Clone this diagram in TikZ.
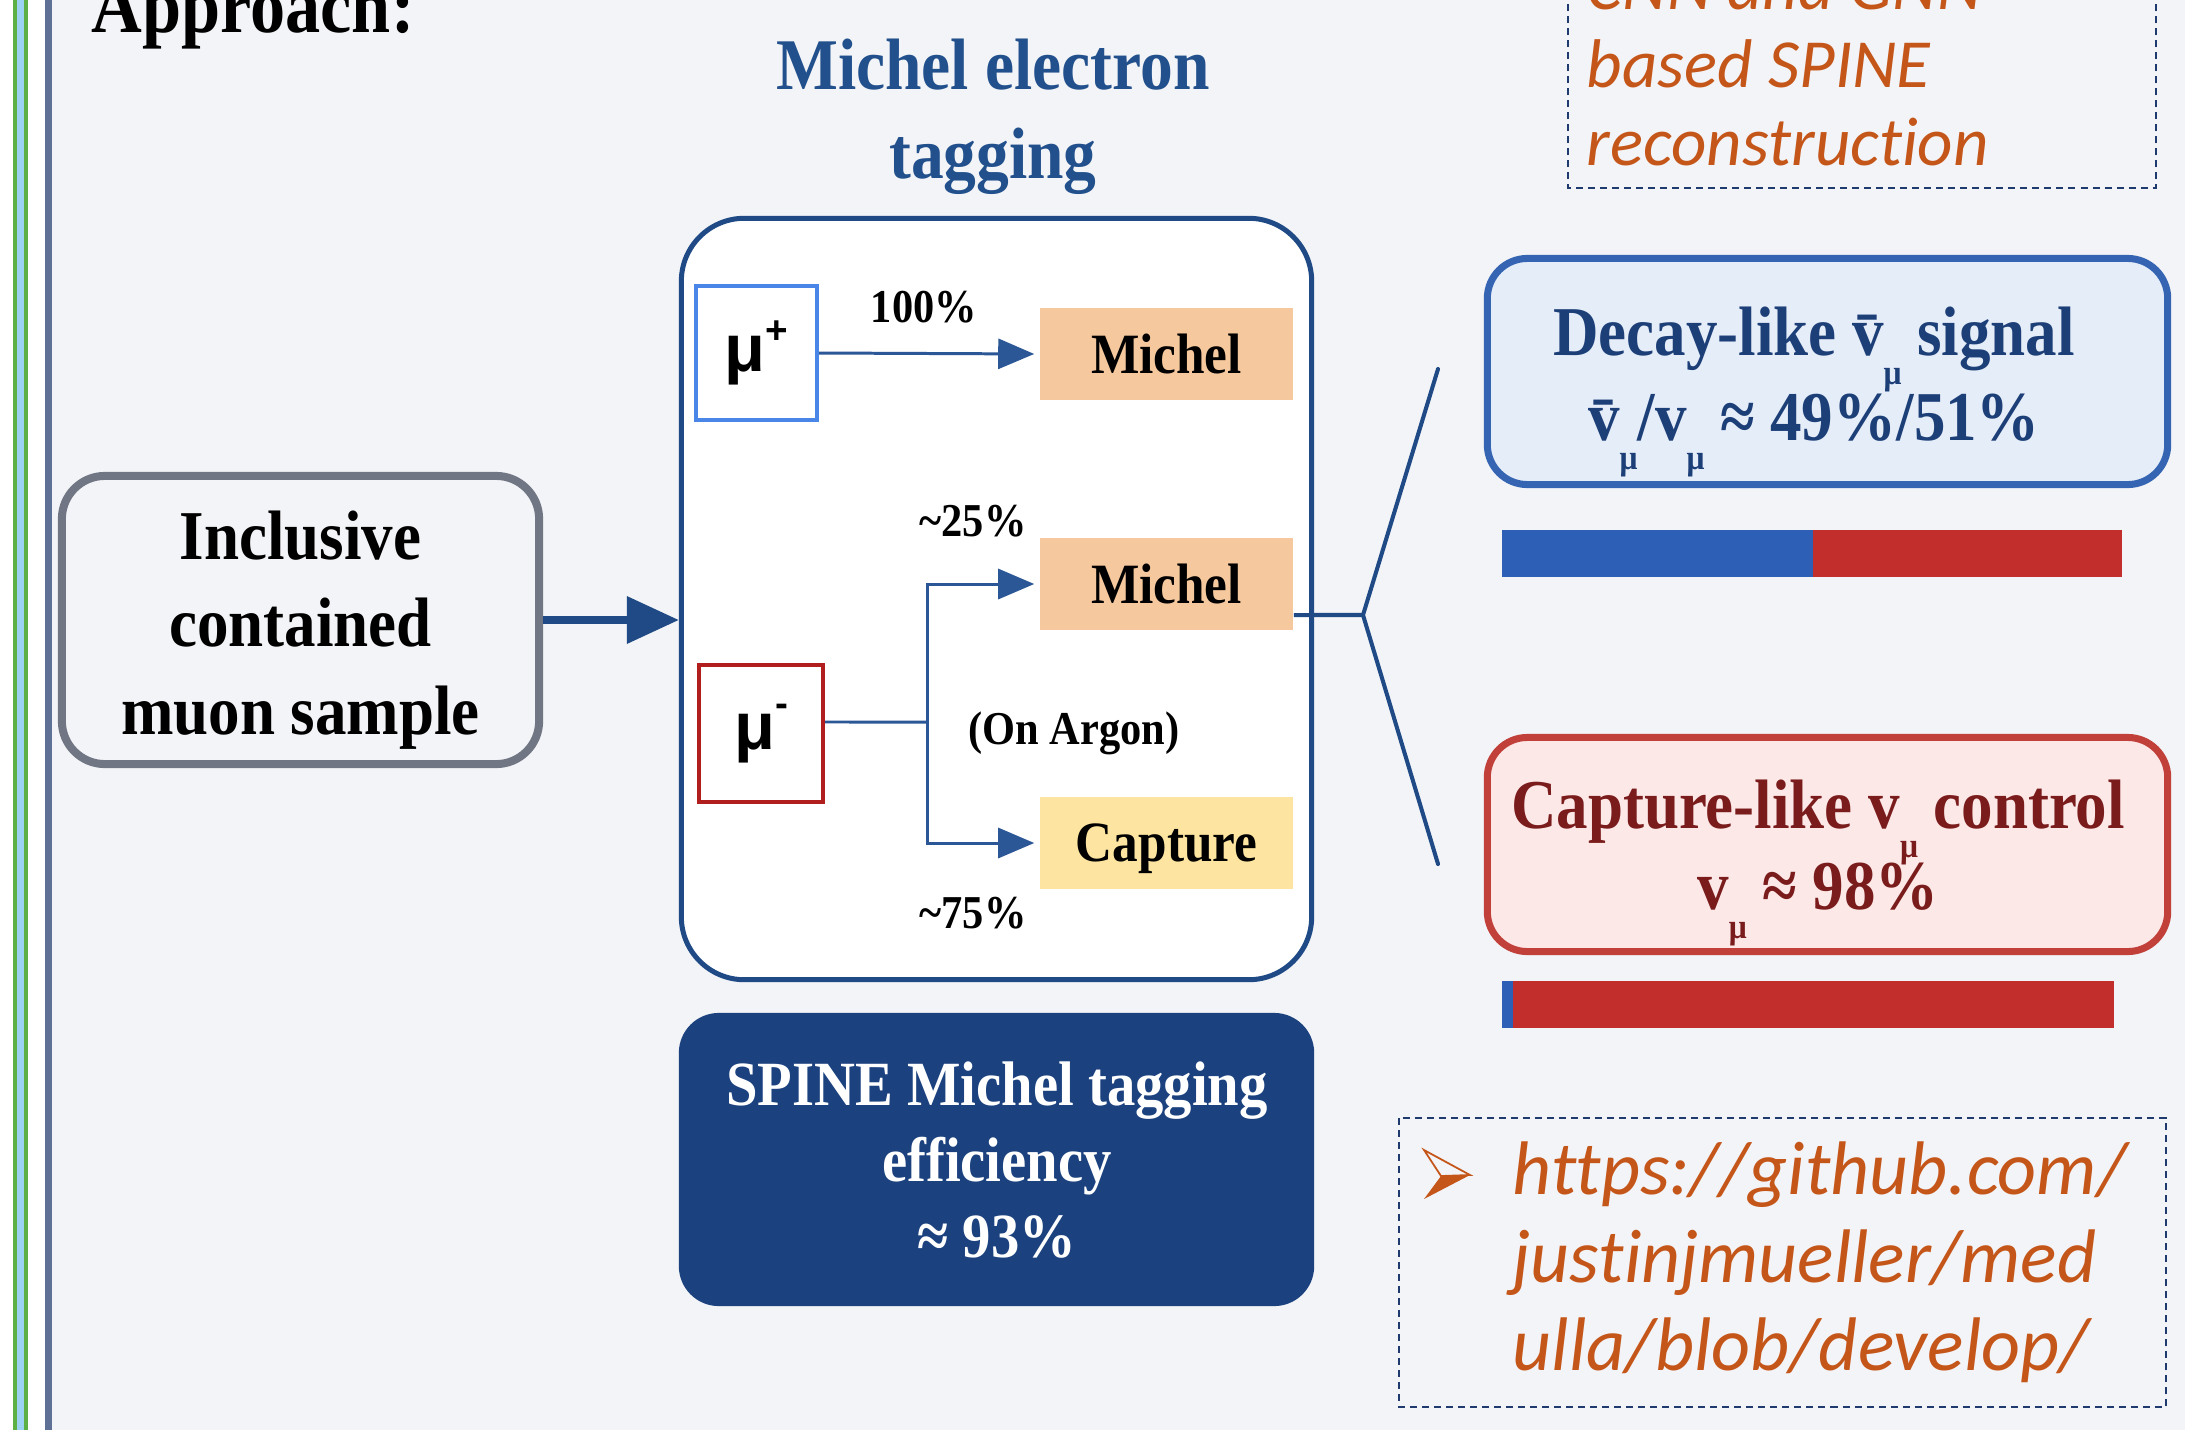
\documentclass[tikz,border=0pt]{standalone}
\usepackage{fontspec}
\setmainfont{Liberation Serif}[FakeStretch=0.9]
\newfontfamily\sansmu{Liberation Sans}
\newfontfamily\orfont{Carlito}[Ligatures=NoCommon]
\usetikzlibrary{arrows.meta,calc}
\definecolor{bgc}{HTML}{F3F4F7}
\definecolor{stripgreen}{HTML}{5DB043}
\definecolor{stripblue}{HTML}{9DD3F0}
\definecolor{slate}{HTML}{5F7096}
\definecolor{titlec}{HTML}{21508C}
\definecolor{mainc}{HTML}{1F4A86}
\definecolor{arrowc}{HTML}{2B5796}
\definecolor{mupc}{HTML}{4A86E8}
\definecolor{mumc}{HTML}{B01E1E}
\definecolor{michc}{HTML}{F6C89D}
\definecolor{captc}{HTML}{FDE4A0}
\definecolor{spinec}{HTML}{1B417E}
\definecolor{decayb}{HTML}{3565B2}
\definecolor{decayf}{HTML}{E5EDF9}
\definecolor{decayt}{HTML}{1D3F78}
\definecolor{capb}{HTML}{C1403A}
\definecolor{capf}{HTML}{FDE8E8}
\definecolor{capt}{HTML}{7A1C1C}
\definecolor{barblue}{HTML}{2E5FB7}
\definecolor{barred}{HTML}{C22E2B}
\definecolor{orangec}{HTML}{C5561A}
\definecolor{grayb}{HTML}{707684}
\definecolor{dashc}{HTML}{1F3A6E}
\newcommand\fsz[2]{\fontsize{#1}{#2}\selectfont}
\newcommand\smu{\smash{\raisebox{-0.42em}{\fsz{10}{10}μ}}}
\begin{document}
\begin{tikzpicture}[x=0.01cm,y=-0.01cm,
  rbox/.style={draw, inner sep=0pt},
  flowline/.style={draw=arrowc, line width=0.85pt},
  flow/.style={flowline, -{Triangle[length=0.36cm,width=0.30cm]}, shorten >=0.05cm},
  fork/.style={draw=mainc, line width=1.15pt},
  lab/.style={inner sep=0pt, font=\bfseries\fsz{13.4}{16}},
  fillbox/.style={inner sep=0pt, minimum width=2.53cm, minimum height=0.92cm, text depth=0pt, font=\bfseries\fsz{16.2}{19}},
  mubox/.style={rbox, line width=1.14pt, fill=white, font=\sansmu\bfseries\fsz{19}{22}},
  dbox/.style={draw=dashc, line width=0.7pt, dash pattern=on 0.07cm off 0.05cm},
  ortext/.style={inner sep=0pt, align=left, text=orangec, anchor=west}]
\useasboundingbox (0,0) rectangle (2185,1430);
\clip (0,0) rectangle (2185,1430);
% background and left strip
\fill[bgc] (0,0) rectangle (2185,1430);
\fill[white] (0,0) rectangle (52,1430);
\fill[stripgreen] (12.7,0) rectangle (28,1430);
\fill[stripblue] (16.7,0) rectangle (24,1430);
\fill[slate] (45,0) rectangle (52,1430);

% heading
\node[inner sep=0pt, anchor=base west, font=\bfseries\fsz{22.2}{26}] (appr) at (91,32) {Approach:};
\node[inner sep=0pt, align=center, text=titlec, font=\bfseries\fsz{20.7}{25.3}] (title) at (993,117) {Michel electron\\tagging};

% inclusive box
\node[rbox, draw=grayb, line width=2.28pt, rounded corners=0.43cm, minimum width=4.77cm, minimum height=2.88cm] (incl) at (300.5,620) {};
\node[inner sep=0pt, align=center, font=\bfseries\fsz{19.9}{24.8}] (inclT) at (300.5,630) {Inclusive\\contained\\muon sample};

% main box
\node[rbox, draw=mainc, fill=white, line width=1.42pt, rounded corners=0.63cm, minimum width=6.30cm, minimum height=7.61cm] (main) at (996.5,599) {};

\draw[draw=mainc, line width=2pt, -{Triangle[length=0.52cm,width=0.46cm]}] (incl.east) -- (incl.east -| main.west);

% muons
\node[mubox, draw=mupc, minimum width=1.21cm, minimum height=1.34cm] (mup) at (756.5,353) {μ\raisebox{0.42em}{\fsz{11}{11}+}};
\node[mubox, draw=mumc, minimum width=1.24cm, minimum height=1.37cm] (mum) at (761,733.5) {μ\raisebox{0.5em}{\fsz{11}{11}-}};

\node[fillbox, fill=michc] (mich1) at (1166.5,354) {Michel};
\node[fillbox, fill=michc] (mich2) at (1166.5,584) {Michel};
\node[fillbox, fill=captc] (capn) at (1166.5,843) {Capture};

\node[lab] (l100) at (924,307) {100\%};
\node[lab] (l25) at (973,521) {\textasciitilde 25\%};
\node[lab] (l75) at (973,913) {\textasciitilde 75\%};
\node[lab] (largon) at (1074,733) {(On Argon)};

\draw[flow] (mup.east) -- (mich1.west);
\coordinate (br) at (927,722);
\draw[flowline] ([yshift=0.115cm]mum.east) -- (br);
\draw[flow] (br) |- (mich2.west);
\draw[flow] (br) |- (capn.west);

% fork to outcome boxes
\coordinate (apex) at (1363,615);
\coordinate (fu) at (1438,369);
\coordinate (fl) at (1438,864);
\draw[fork] ([yshift=-0.31cm]mich2.east) -- (apex);
\draw[fork, line cap=round] (fu) -- (apex) -- (fl);

% SPINE efficiency box
\node[inner sep=0pt, fill=spinec, rounded corners=0.40cm, minimum width=6.35cm, minimum height=2.93cm] (spine) at (996.5,1159.5) {};
\node[inner sep=0pt, align=center, text=white, font=\bfseries\fsz{17.9}{21.6}] (spineT) at (997,1160) {SPINE Michel tagging\\efficiency\\≈ 93\%};

% decay-like box
\node[rbox, draw=decayb, fill=decayf, line width=2pt, rounded corners=0.40cm, minimum width=6.80cm, minimum height=2.26cm] (decay) at (1827.5,371.5) {};
\node[inner sep=0pt, align=center, text=decayt, font=\bfseries\fsz{19.9}{24.2}] (decayT) at (1814,374) {Decay-like \={v}\smu\ signal\\\={v}\smu/v\smu\ ≈ 49\%/51\%};
\fill[barblue] (1502,530) rectangle (1813,577);
\fill[barred] (1813,530) rectangle (2122,577);

% capture-like box
\node[rbox, draw=capb, fill=capf, line width=2pt, rounded corners=0.40cm, minimum width=6.80cm, minimum height=2.14cm] (capbox) at (1827.5,844.5) {};
\node[inner sep=0pt, align=center, text=capt, font=\bfseries\fsz{19.9}{23}] (capT) at (1818,845) {Capture-like v\smu\ control\\v\smu\ ≈ 98\%};
\fill[barred] (1502,981) rectangle (2114,1028);
\fill[barblue] (1502,981) rectangle (1513,1028);

% dashed note boxes
\draw[dbox] (1568,-20) rectangle (2156,188);
\node[ortext, font=\orfont\itshape\fsz{19.6}{22.2}] (recoT) at (1586,64) {CNN and GNN\\based SPINE\\reconstruction};

\draw[dbox] (1399,1118) rectangle (2166,1407);
\fill[orangec] (1424,1199) -- (1441,1176) -- (1470,1175) -- cycle;
\draw[orangec, line width=0.5pt, line join=miter] (1424,1150) -- (1470,1175) -- (1441,1176) -- cycle;
\node[ortext, font=\orfont\itshape\fsz{21.6}{25}] (urlT) at (1512,1262) {https://github.com/\\justinjmueller/med\\ulla/blob/develop/};
\end{tikzpicture}
\end{document}
